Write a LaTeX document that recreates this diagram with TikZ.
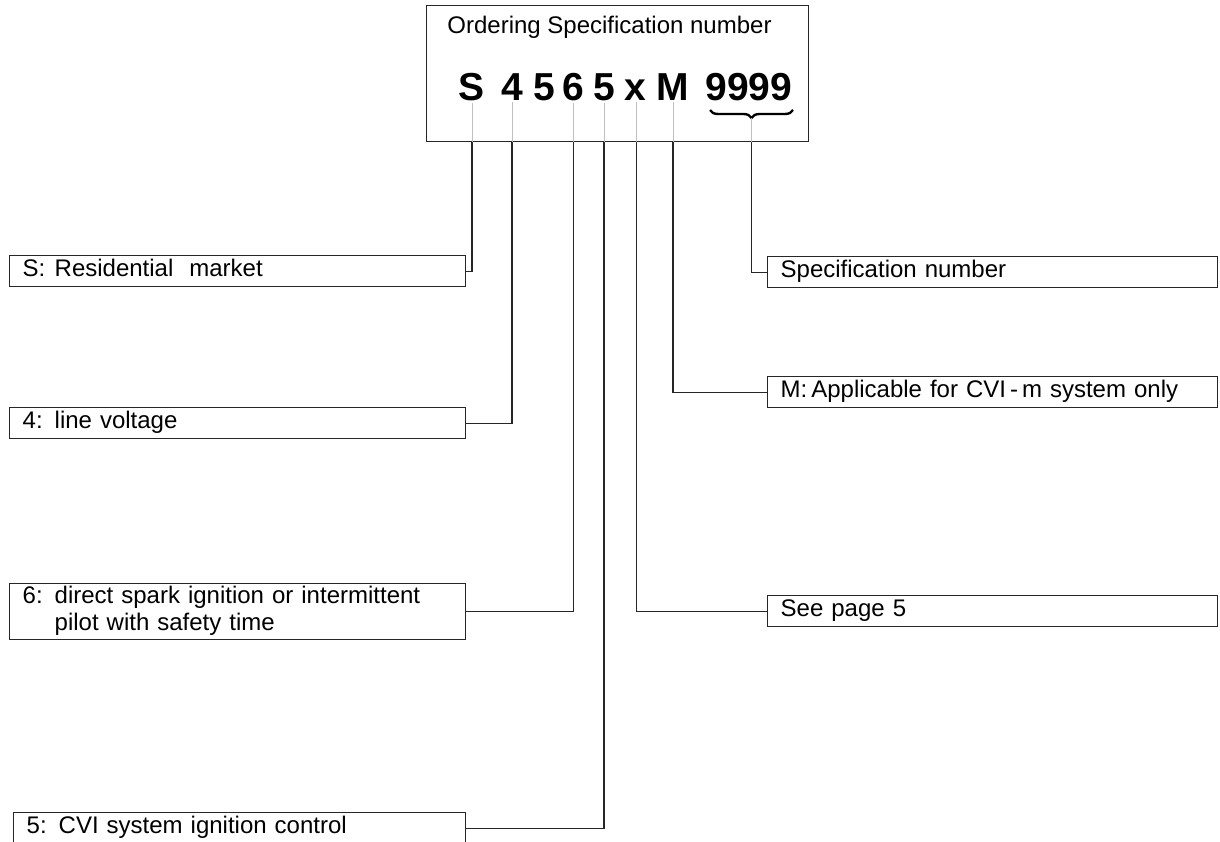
\documentclass[tikz,border=0pt]{standalone}
\usepackage{fontspec}
\setmainfont{Liberation Sans}
\usetikzlibrary{decorations.pathreplacing}
\begin{document}
\begin{tikzpicture}[x = 0.5pt, y = -0.5pt,
      every node/.style = {font = \fontsize{12}{13.5}\selectfont},
      descbox/.style = {draw = black!85, line width = 0.7pt, anchor = north west,
        text width = #1, align = left, inner xsep = 6.5pt, inner ysep = 0.5pt,
        minimum height = 15.5pt, execute at begin node = \strut,
        execute at end node = \strut},
      code/.style = {anchor = base, inner sep = 0pt,
        font = \fontsize{19.5}{19.5}\selectfont\bfseries},
      pale/.style = {draw = black!25, line width = 0.5pt},
      link/.style = {draw = black!85, line width = 0.65pt}]
      \useasboundingbox (0,0) rectangle (1220,841);
      \node [draw = black!85, line width = 0.7pt, anchor = north west, inner sep = 0pt,
        minimum width = 191pt, minimum height = 68pt] (spec) at (426,5) {};
      \node [anchor = base west, inner sep = 0pt] (title) at (447,33) {Ordering Specification number};
      \node [code] (cS) at (472,100) {S};
      \node [code] (cFour) at (512,100) {4};
      \node [code] (cFive) at (544,100) {5};
      \node [code] (cSix) at (573.5,100) {6};
      \node [code] (cFiveB) at (604,100) {5};
      \node [code] (cX) at (635.5,100) {x};
      \node [code] (cM) at (673,100) {M};
      \node [code] (cNum) at (749,100) {9999};
      \draw [decorate, decoration = {brace, mirror, amplitude = 4pt}, line width = 1.2pt]
        (710,110) -- (793,110);
      \coordinate (brtip) at (751.5,118);
      \node [descbox = 215pt] (dS) at (9,255) {\makebox[16pt][l]{S:}Residential\ \ market};
      \node [descbox = 215pt] (dFour) at (9,407) {\makebox[16pt][l]{4:}line voltage};
      \node [descbox = 215pt] (dSix) at (9,583) {\makebox[16pt][l]{6:}direct spark ignition or intermittent\\
        \hspace*{16pt}pilot with safety time};
      \node [descbox = 213pt] (dFiveB) at (13,812) {\makebox[16pt][l]{5:}CVI system ignition control};
      \node [descbox = 212pt] (dNum) at (767,256) {Specification number};
      \node [descbox = 212pt] (dM) at (767,376) {M:\,Applicable for CVI\,-\,m system only};
      \node [descbox = 212pt] (dX) at (767,595) {See page 5};
      \draw [pale] ([yshift = -1pt]cS.south) -- (cS.south |- spec.south);
      \draw [pale] ([yshift = -1pt]cFour.south) -- (cFour.south |- spec.south);
      \draw [pale] ([yshift = -1pt]cSix.south) -- (cSix.south |- spec.south);
      \draw [pale] ([yshift = -1pt]cFiveB.south) -- (cFiveB.south |- spec.south);
      \draw [pale] ([xshift = 0.5pt, yshift = -1pt]cX.south) -- ([xshift = 0.5pt]cX.south |- spec.south);
      \draw [pale] ([yshift = -1pt]cM.south) -- (cM.south |- spec.south);
      \draw [pale] (brtip) -- (brtip |- spec.south);
      \draw [link] (cS.south |- spec.south) |- (dS.east);
      \draw [link] (cFour.south |- spec.south) |- (dFour.east);
      \draw [link] (cSix.south |- spec.south) |- (dSix.east);
      \draw [link] (cFiveB.south |- spec.south) |- (dFiveB.east);
      \draw [link] ([xshift = 0.5pt]cX.south |- spec.south) |- (dX.west);
      \draw [link] (cM.south |- spec.south) |- (dM.west);
      \draw [link] (brtip |- spec.south) |- (dNum.west);
    \end{tikzpicture}
\end{document}
